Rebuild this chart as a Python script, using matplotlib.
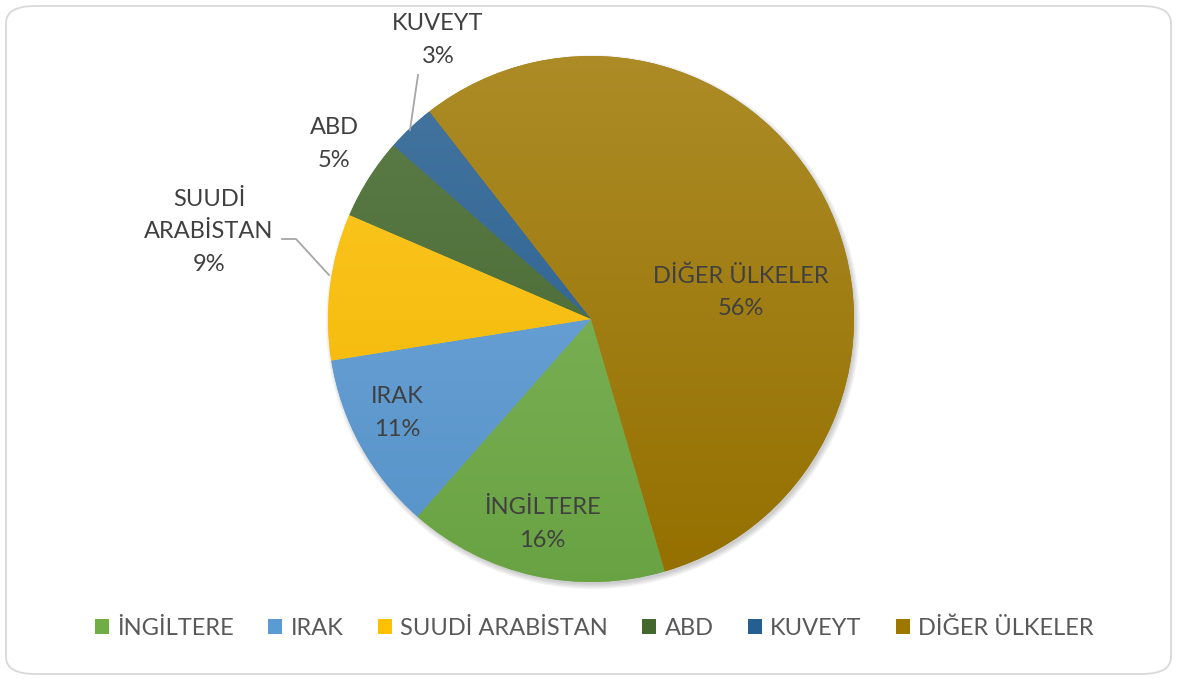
import matplotlib.pyplot as plt
import matplotlib.colors as mcolors
from matplotlib.patches import FancyBboxPatch, Patch, Circle
import numpy as np

# 數據
ulkeler = ["İNGİLTERE", "IRAK", "SUUDİ ARABİSTAN", "ABD", "KUVEYT", "DİĞER ÜLKELER"]
etiketler = ["İNGİLTERE", "IRAK", "SUUDİ\nARABİSTAN", "ABD", "KUVEYT", "DİĞER ÜLKELER"]
oranlar = [16, 11, 9, 5, 3, 56]
renkler = ["#70AD47", "#5B9BD5", "#FFC000", "#43682B", "#255E91", "#9E7700"]

plt.rcParams["font.family"] = ["Lato", "DejaVu Sans"]

W, H = 1177, 679
fig = plt.figure(figsize=(W / 100, H / 100), dpi=100)
ax = fig.add_axes([0, 0, 1, 1])

# 外框
fig.patches.append(FancyBboxPatch((6 / W, 5 / H), 1165 / W, 668 / H,
                                  boxstyle="round,pad=0,rounding_size=0.025",
                                  transform=fig.transFigure, fc="none",
                                  ec="#D9D9D9", lw=1.3, zorder=10))

cx, cy, r = 591, H - 319, 263

# 陰影
for k in range(4):
    ax.add_patch(Circle((cx + 2, cy - 3), r + 4 - k * 1.5, fc="black", ec="none",
                        alpha=0.05, zorder=0))

wedges, _ = ax.pie(oranlar, colors=renkler, startangle=-73.7, counterclock=False,
                   center=(cx, cy), radius=r, wedgeprops=dict(linewidth=0))

# 漸層填色
for w, c in zip(wedges, renkler):
    rgb = np.array(mcolors.to_rgb(c))
    top = rgb + (1 - rgb) * 0.15
    bot = rgb * 0.94
    t = np.linspace(0, 1, 256)[:, None]
    grad = top * (1 - t) + bot * t
    img = ax.imshow(grad[:, None, :].repeat(2, axis=1),
                    extent=(cx - r, cx + r, cy - r, cy + r),
                    origin="upper", aspect="auto", zorder=2)
    img.set_clip_path(w)

# 資料標籤位置 (像素)
etiket_xy = [(542, 524), (397, 413), (209, 232), (334, 144), (438, 40), (741, 292)]
for lab, v, (x, y) in zip(etiketler, oranlar, etiket_xy):
    ax.text(x, H - y, f"{lab}\n{v}%", ha="center", va="center", fontsize=17,
            color="#404040", linespacing=1.65, zorder=5)

# 引導線
ax.plot([282, 296, 329], [H - 239, H - 239, H - 275], color="#A6A6A6", lw=1.3, zorder=5)
ax.plot([418, 410], [H - 75, H - 130], color="#A6A6A6", lw=1.3, zorder=5)

ax.set_xlim(0, W)
ax.set_ylim(0, H)
ax.set_aspect("equal")
ax.axis("off")

handles = [Patch(fc=c, ec="none") for c in renkler]
fig.legend(handles, ulkeler, loc="center", bbox_to_anchor=(0.505, 1 - 628 / H),
           ncol=6, frameon=False, fontsize=17, labelcolor="#595959",
           handlelength=0.6, handleheight=0.6, handletextpad=0.35, columnspacing=1.45)

fig.savefig("out.png", dpi=100)
